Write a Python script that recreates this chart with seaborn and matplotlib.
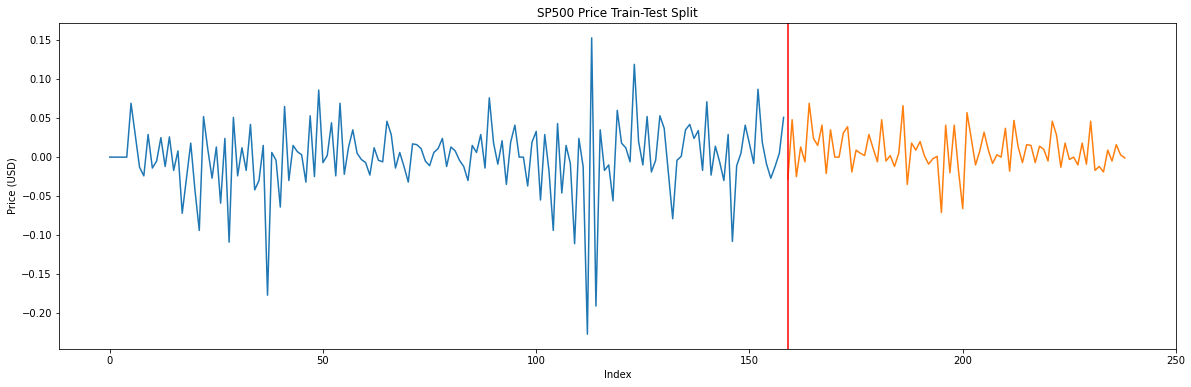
import numpy as np
import pandas as pd
import matplotlib
matplotlib.use("Agg")
import matplotlib.pyplot as plt
import seaborn as sns

split_index = 159

train_values = [
    0, 0, 0, 0, 0, 0.069, 0.028, -0.013, -0.024, 0.029,
    -0.014, -0.005, 0.025, -0.012, 0.026, -0.017, 0.008, -0.072, -0.027, 0.018,
    -0.043, -0.094, 0.052, 0.010, -0.027, 0.013, -0.059, 0.024, -0.109, 0.051,
    -0.024, 0.012, -0.017, 0.042, -0.042, -0.030, 0.015, -0.177, 0.006, -0.004,
    -0.064, 0.065, -0.030, 0.015, 0.007, 0.003, -0.032, 0.053, -0.025, 0.086,
    -0.007, 0.002, 0.044, -0.024, 0.069, -0.022, 0.013, 0.035, 0.005, -0.003,
    -0.007, -0.023, 0.012, -0.004, -0.006, 0.046, 0.029, -0.014, 0.006, -0.012,
    -0.032, 0.017, 0.016, 0.011, -0.005, -0.011, 0.006, 0.011, 0.024, -0.012,
    0.013, 0.008, -0.004, -0.012, -0.030, 0.015, 0.006, 0.029, -0.014, 0.076,
    0.018, -0.009, 0.021, -0.035, 0.019, 0.041, 0.000, 0.000, -0.037, 0.019,
    0.033, -0.055, 0.029, -0.018, -0.094, 0.043, -0.046, 0.015, -0.008, -0.111,
    0.024, -0.012, -0.227, 0.153, -0.191, 0.035, -0.017, -0.010, -0.056, 0.060,
    0.018, 0.012, -0.006, 0.119, 0.020, -0.010, 0.052, -0.019, -0.004, 0.053,
    0.037, -0.021, -0.079, -0.004, 0.001, 0.035, 0.042, 0.024, 0.034, -0.017,
    0.071, -0.023, 0.014, -0.006, -0.030, 0.029, -0.108, -0.011, 0.005, 0.041,
    0.017, -0.008, 0.087, 0.019, -0.009, -0.027, -0.012, 0.005, 0.051,
]

test_values = [
    -0.028, 0.048, -0.025, 0.013, -0.006, 0.069, 0.024, 0.015, 0.041, -0.021,
    0.035, 0.000, 0.000, 0.031, 0.039, -0.019, 0.009, 0.005, 0.002, 0.029,
    0.011, -0.006, 0.048, -0.005, 0.002, -0.012, 0.005, 0.066, -0.035, 0.018,
    0.009, 0.020, 0.002, -0.009, -0.002, 0.001, -0.071, 0.041, -0.020, 0.041,
    -0.017, -0.066, 0.057, 0.024, -0.010, 0.008, 0.032, 0.009, -0.008, 0.003,
    0.000, 0.037, -0.018, 0.047, 0.013, -0.007, 0.016, 0.015, -0.007, 0.014,
    0.010, -0.005, 0.046, 0.028, -0.013, 0.018, -0.003, 0.000, -0.010, 0.018,
    -0.009, 0.046, -0.017, -0.012, -0.019, 0.009, -0.005, 0.016, 0.003, -0.001,
]

train_index = list(range(0, len(train_values)))
test_index = list(range(len(train_values), len(train_values) + len(test_values)))

train_df = pd.DataFrame({"Index": train_index, "Price": train_values})
test_df = pd.DataFrame({"Index": test_index, "Price": test_values})

plt.rcParams["font.family"] = ["DejaVu Sans"]
fig = plt.figure(figsize=(1191 / 72, 387 / 72), dpi=72)
ax = fig.add_axes([0.0495, 0.0982, 0.9379, 0.8424])

sns.lineplot(data=train_df, x="Index", y="Price", ax=ax, color="#1f77b4", linewidth=1.5)
sns.lineplot(data=test_df, x="Index", y="Price", ax=ax, color="#ff7f0e", linewidth=1.5)
ax.axvline(split_index, color="red", linewidth=1.5)

ax.set_xticks([0, 50, 100, 150, 200, 250])
ax.set_xlim(-11.9, 250)
ax.set_title("SP500 Price Train-Test Split", fontsize=12)
ax.set_xlabel("Index", fontsize=10)
ax.set_ylabel("Price (USD)", fontsize=10)

fig.savefig("out.png", dpi=72)
